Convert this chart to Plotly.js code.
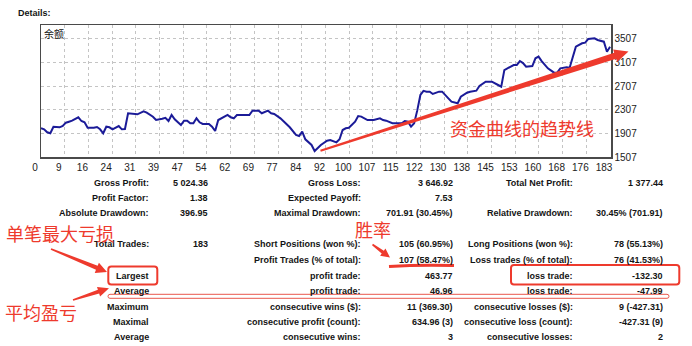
<!DOCTYPE html>
<html><head><meta charset="utf-8">
<script src="https://cdn.plot.ly/plotly-3.0.1.min.js"></script>
<style>html,body{margin:0;padding:0;background:#fff;} #chart{width:692px;height:346px;}</style>
</head><body><div id="chart"></div>
<script>
// ---- chart data ----
const tradeNo = [0,1,2,3,4,6,7,8,9,10,12,13,14,15,17,18,19,20,21,22,23,24,25,26,27,28,30,31,33,34,36,37,39,40,41,42,43,45,46,47,48,49,50,51,52,54,55,56,57,58,60,61,62,63,67,68,70,71,73,74,75,77,79,80,82,83,84,85,87,88,90,92,93,95,96,97,98,99,101,102,103,105,107,109,110,111,113,116,117,118,119,120,121,122,123,124,125,126,128,129,131,132,134,135,137,138,140,141,143,145,147,148,149,151,152,153,154,155,156,158,159,160,161,163,165,166,167,169,170,172,174,175,176,178,179,181,182,183];
const balance = [2000,1980,1930,1913,2024,2014,2036,2092,2109,2126,2183,2120,2099,2007,2007,2019,1980,1913,2024,2014,1980,2003,2036,1980,1985,2251,2234,2234,2284,2261,2193,2137,2160,2175,2120,2222,2149,2053,2126,2126,2082,2082,2166,2099,2070,2070,2024,1951,2137,2166,2222,2183,2166,2222,2222,2295,2295,2251,2295,2251,2240,2166,2070,2014,1884,1867,1940,1811,1715,1613,1715,1788,1799,1760,1811,1968,1997,2005,2109,2205,2195,2137,2137,2166,2137,2126,2082,2082,2120,2109,2024,2082,2300,2560,2630,2616,2616,2577,2616,2616,2504,2447,2420,2531,2599,2616,2633,2712,2785,2785,2729,2700,2982,3045,3067,3067,3134,3100,3038,3050,3180,3208,3134,3011,2937,2937,3011,3028,3021,3376,3434,3444,3507,3518,3490,3461,3292,3377];
const xTickLabels = ['0','9','16','24','31','39','47','54','62','69','77','84','92','100','107','115','122','130','138','145','153','160','168','176','183'];
const yTickValues = [1507,1907,2307,2707,3107,3507];
const chartTitle = '余额';
const pageTitle = 'Details:';

// ---- report table ----
const col1Labels = ['Gross Profit:','Profit Factor:','Absolute Drawdown:','Total Trades:','','Largest','Average','Maximum','Maximal','Average'];
const col1Values = ['5 024.36','1.38','396.95','183','','','','','',''];
const col2Labels = ['Gross Loss:','Expected Payoff:','Maximal Drawdown:','Short Positions (won %):','Profit Trades (% of total):','profit trade:','profit trade:','consecutive wins ($):','consecutive profit (count):','consecutive wins:'];
const col2Values = ['3 646.92','7.53','701.91 (30.45%)','105 (60.95%)','107 (58.47%)','463.77','46.96','11 (369.30)','634.96 (3)','3'];
const col3Labels = ['Total Net Profit:','','Relative Drawdown:','Long Positions (won %):','Loss trades (% of total):','loss trade:','loss trade:','consecutive losses ($):','consecutive loss (count):','consecutive losses:'];
const col3Values = ['1 377.44','','30.45% (701.91)','78 (55.13%)','76 (41.53%)','-132.30','-47.99','9 (-427.31)','-427.31 (9)','2'];

// ---- callout texts ----
const noteTrend = '资金曲线的趋势线';
const noteMaxLoss = '单笔最大亏损';
const noteWinRate = '胜率';
const noteAvg = '平均盈亏';

// ---- layout helpers (pixel -> paper) ----
const W = 692, H = 346;
const px = x => x / W;
const py = y => 1 - y / H;
const P = (x, y) => px(x).toFixed(5) + ',' + py(y).toFixed(5);
const RED = '#ee3a2d';

function arrowPath(x0, y0, x1, y1, w0, w1, hl, hw) {
  const dx = x1 - x0, dy = y1 - y0, L = Math.hypot(dx, dy);
  const ux = dx / L, uy = dy / L, nx = -uy, ny = ux;
  const bx = x1 - ux * hl, by = y1 - uy * hl;
  const pts = [
    [x0 + nx * w0, y0 + ny * w0],
    [bx + nx * w1, by + ny * w1],
    [bx + nx * hw, by + ny * hw],
    [x1, y1],
    [bx - nx * hw, by - ny * hw],
    [bx - nx * w1, by - ny * w1],
    [x0 - nx * w0, y0 - ny * w0]
  ];
  return 'M' + pts.map(p => P(p[0], p[1])).join(' L') + ' Z';
}
function roundRect(x0, y0, x1, y1, r) {
  return 'M' + P(x0 + r, y0) + ' L' + P(x1 - r, y0) + ' Q' + P(x1, y0) + ' ' + P(x1, y0 + r) +
    ' L' + P(x1, y1 - r) + ' Q' + P(x1, y1) + ' ' + P(x1 - r, y1) +
    ' L' + P(x0 + r, y1) + ' Q' + P(x0, y1) + ' ' + P(x0, y1 - r) +
    ' L' + P(x0, y0 + r) + ' Q' + P(x0, y0) + ' ' + P(x0 + r, y0) + ' Z';
}

const xMax = 183;
const tickVals = xTickLabels.map((_, k) => k * xMax / (xTickLabels.length - 1));

const trace = {
  x: tradeNo, y: balance, type: 'scatter', mode: 'lines',
  line: {color: '#1b1b98', width: 2}, hoverinfo: 'skip', showlegend: false
};

const tickFont = {family: 'Liberation Sans, Arial, sans-serif', size: 10, color: '#222'};
const tblFont = {family: 'Liberation Sans, Arial, sans-serif', size: 9, color: '#141414'};
const cjk = 'Noto Sans CJK SC, sans-serif';

const rowsY = [182.7, 197.7, 213.3, 244, 260, 275.7, 290.7, 306.7, 321.7, 337.3];
const colRight = [150, 209, 362, 454.3, 574.3, 664.3];
const cols = [col1Labels, col1Values, col2Labels, col2Values, col3Labels, col3Values];

const annotations = [];
cols.forEach((col, ci) => {
  col.forEach((t, ri) => {
    if (!t) return;
    annotations.push({
      xref: 'paper', yref: 'paper', x: px(colRight[ci]), y: py(rowsY[ri]),
      xanchor: 'right', yanchor: 'middle', showarrow: false, text: '<b>' + t + '</b>',
      font: tblFont, borderpad: 0
    });
  });
});
annotations.push(
  {xref: 'paper', yref: 'paper', x: px(16.5), y: py(12.7), xanchor: 'left', yanchor: 'middle', showarrow: false,
   text: '<b>' + pageTitle + '</b>', font: tblFont, borderpad: 0},
  {xref: 'paper', yref: 'paper', x: px(43), y: py(33.5), xanchor: 'left', yanchor: 'middle', showarrow: false,
   text: chartTitle, font: {family: cjk, size: 10, color: '#111'}, borderpad: 0},
  {xref: 'paper', yref: 'paper', x: px(521.5), y: py(127.5), xanchor: 'center', yanchor: 'middle', showarrow: false,
   text: noteTrend, font: {family: cjk, size: 18, color: RED}, borderpad: 0},
  {xref: 'paper', yref: 'paper', x: px(59.5), y: py(233), xanchor: 'center', yanchor: 'middle', showarrow: false,
   text: noteMaxLoss, font: {family: cjk, size: 18, color: RED}, borderpad: 0},
  {xref: 'paper', yref: 'paper', x: px(373.5), y: py(228.5), xanchor: 'center', yanchor: 'middle', showarrow: false,
   text: noteWinRate, font: {family: cjk, size: 18, color: RED}, borderpad: 0},
  {xref: 'paper', yref: 'paper', x: px(41), y: py(311.5), xanchor: 'center', yanchor: 'middle', showarrow: false,
   text: noteAvg, font: {family: cjk, size: 18, color: RED}, borderpad: 0}
);

const shapes = [
  {type: 'path', xref: 'paper', yref: 'paper', path: arrowPath(320.5, 150.8, 628.5, 51.5, 1, 3.2, 14, 6.5),
   fillcolor: RED, line: {width: 0}},
  {type: 'path', xref: 'paper', yref: 'paper', path: arrowPath(51, 249, 107, 272, 0.8, 2.2, 11, 5.5),
   fillcolor: RED, line: {width: 0}},
  {type: 'path', xref: 'paper', yref: 'paper', path: arrowPath(73, 300, 109, 288.3, 0.8, 2, 11, 5),
   fillcolor: RED, line: {width: 0}},
  {type: 'path', xref: 'paper', yref: 'paper', path: arrowPath(372.5, 244.5, 390, 257.5, 0.8, 1.8, 9, 4.5),
   fillcolor: RED, line: {width: 0}},
  {type: 'path', xref: 'paper', yref: 'paper', path: roundRect(108.3, 266.5, 157.3, 284.5, 3),
   line: {color: RED, width: 2}},
  {type: 'path', xref: 'paper', yref: 'paper', path: roundRect(511, 265, 679.3, 284.5, 3),
   line: {color: RED, width: 2}},
  {type: 'path', xref: 'paper', yref: 'paper', path: roundRect(108, 294.3, 669, 298.3, 2),
   line: {color: '#e9584d', width: 1}},
  {type: 'path', xref: 'paper', yref: 'paper', path: 'M' + P(389, 266.5) + ' Q' + P(420, 264.5) + ' ' + P(454, 265.5),
   line: {color: RED, width: 3}}
];

const layout = {
  width: W, height: H, autosize: false,
  margin: {l: 0, r: 0, t: 0, b: 0},
  paper_bgcolor: '#fff', plot_bgcolor: '#fff',
  showlegend: false,
  xaxis: {
    domain: [px(41), px(611)], range: [0, 183.3], tickmode: 'array', tickvals: tickVals, ticktext: xTickLabels,
    showgrid: true, gridcolor: '#c4c4c4', griddash: '3px,3px', gridwidth: 1, zeroline: false,
    showline: true, mirror: true, linecolor: '#4a4a4a', linewidth: 1.5, ticks: '',
    tickfont: tickFont, ticklabelshift: -6, fixedrange: true
  },
  yaxis: {
    domain: [py(157.3), py(25)], range: [1507, 3743], side: 'right', tickmode: 'array', tickvals: yTickValues,
    showgrid: true, gridcolor: '#c4c4c4', griddash: '3px,3px', gridwidth: 1, zeroline: false,
    showline: true, mirror: true, linecolor: '#4a4a4a', linewidth: 1.5, ticks: '',
    tickfont: tickFont, fixedrange: true
  },
  annotations: annotations,
  shapes: shapes
};

Plotly.newPlot('chart', [trace], layout, {staticPlot: true, displayModeBar: false});
</script>
</body></html>
